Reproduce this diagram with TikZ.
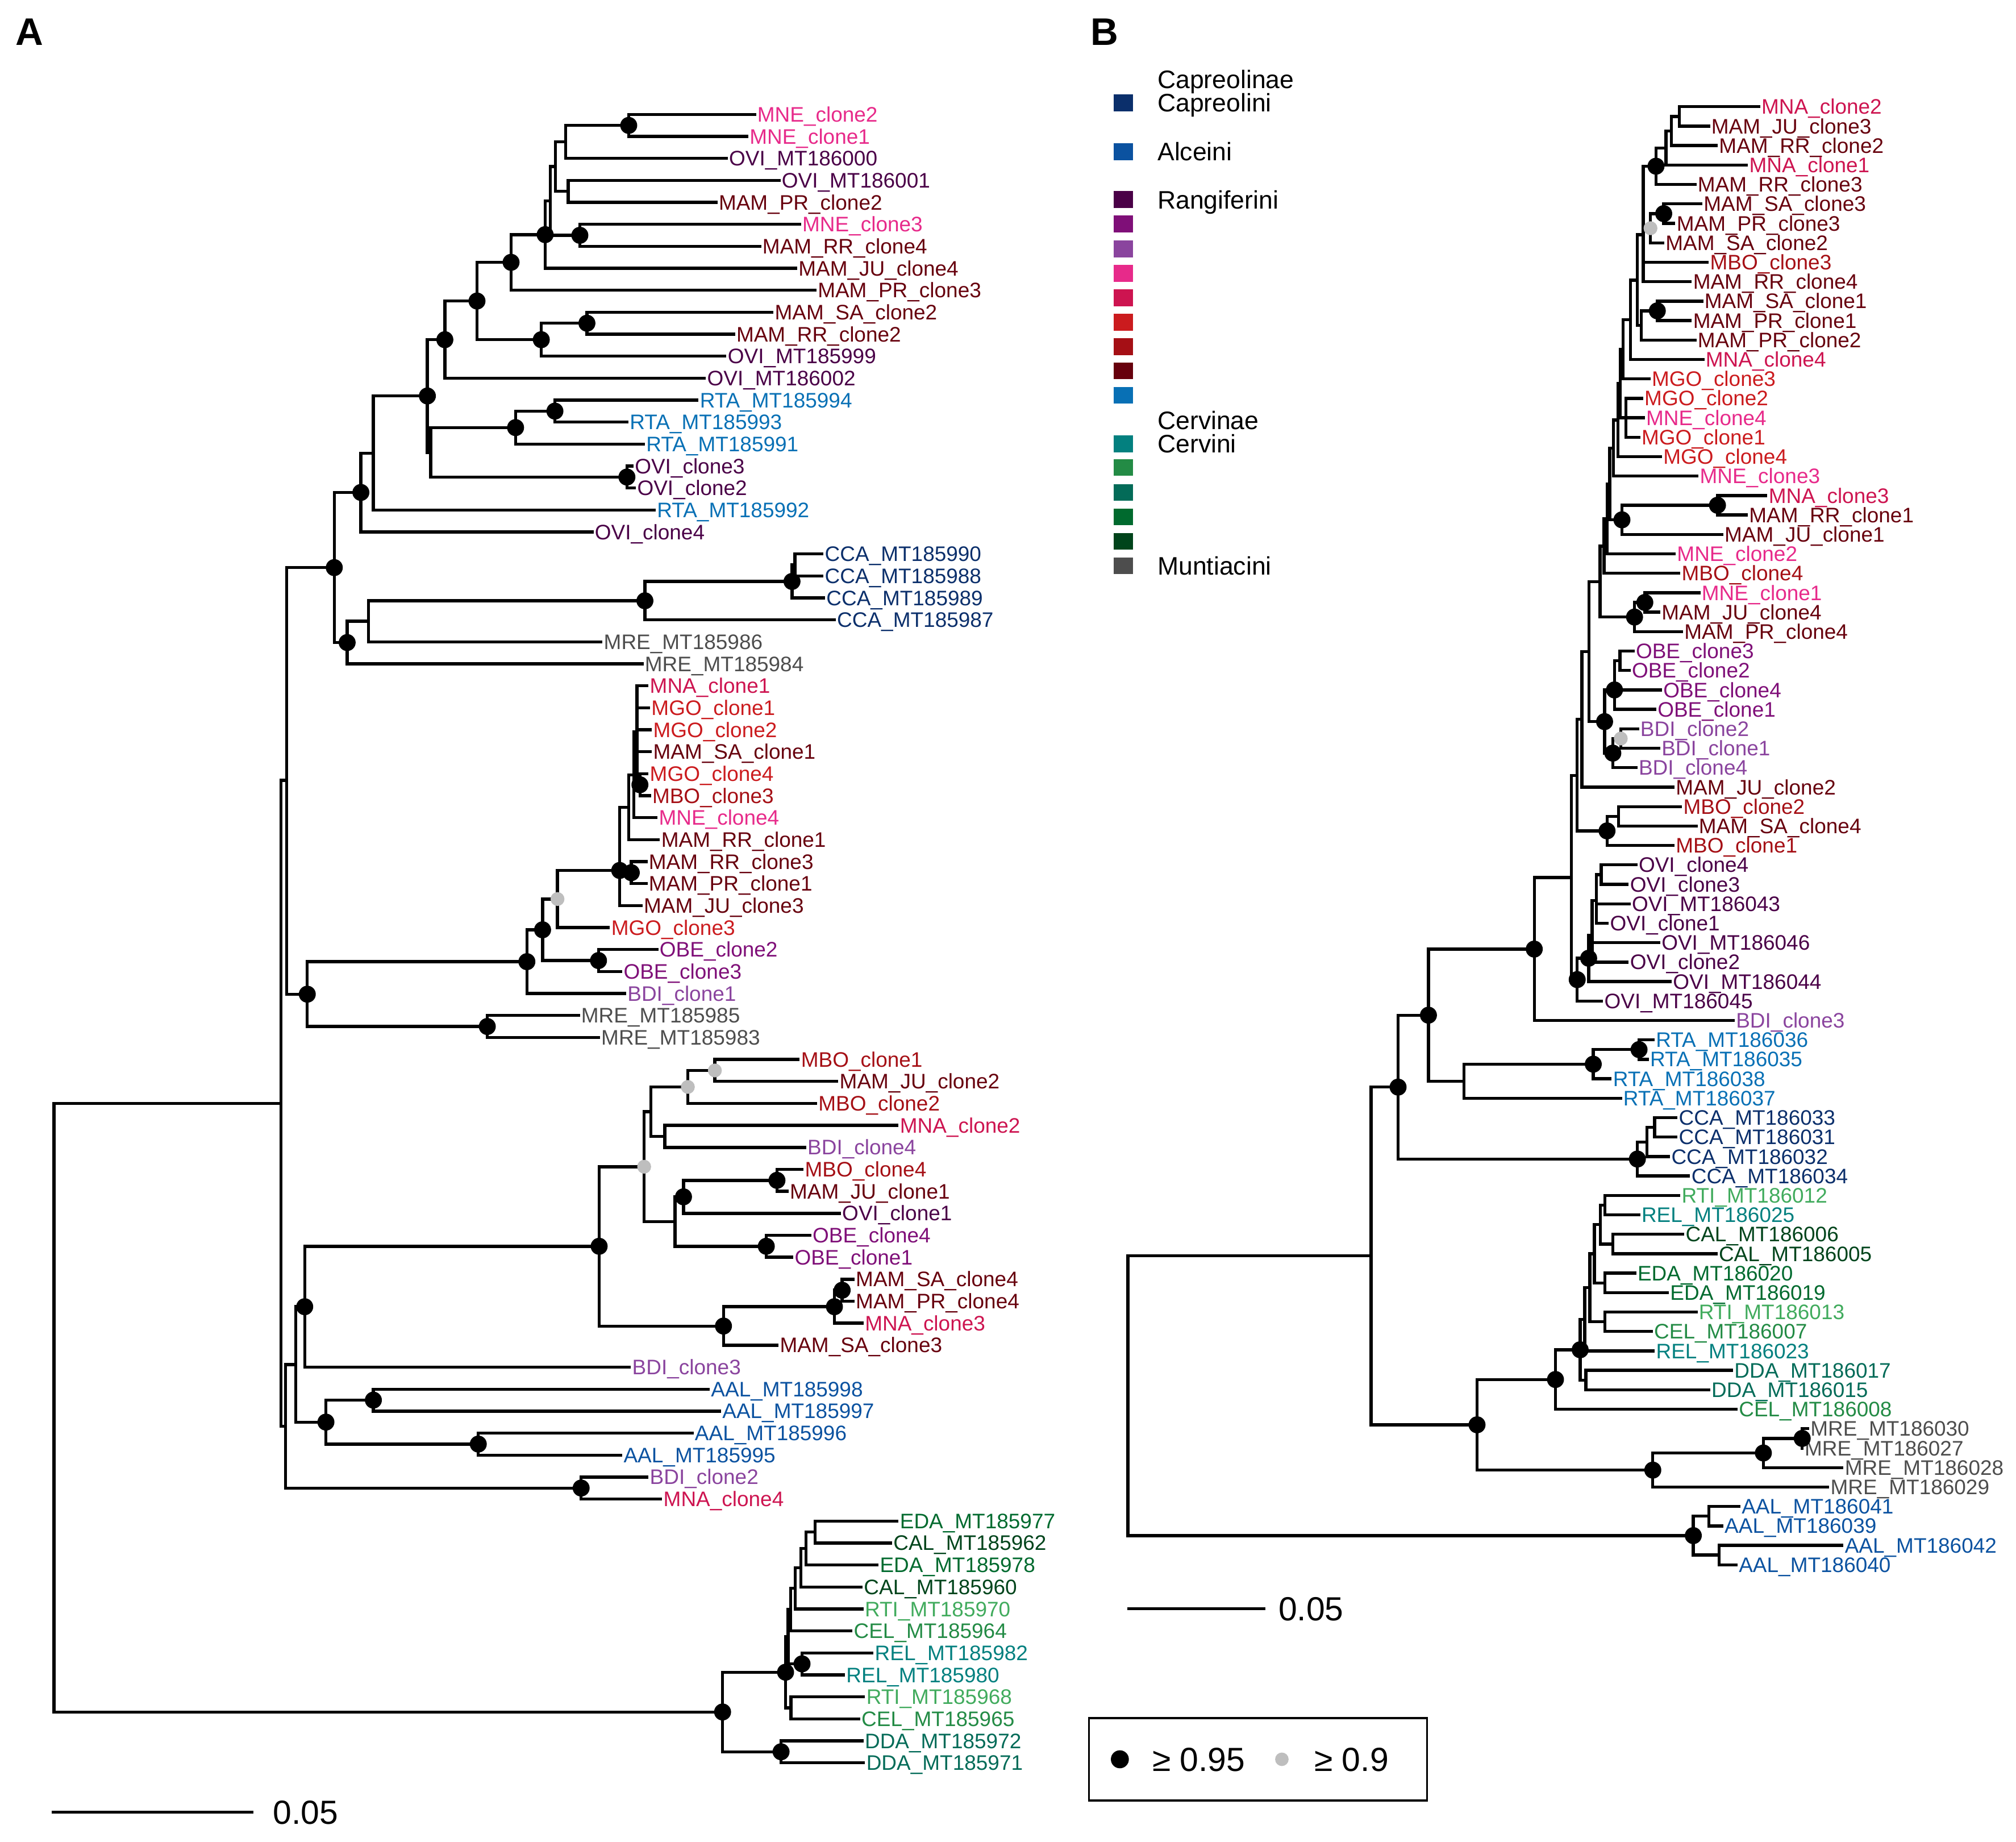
\documentclass[tikz,border=0pt]{standalone}
\usepackage{fontspec}
\setmainfont{Liberation Sans}
\usetikzlibrary{positioning}
\definecolor{colCCA}{HTML}{0B2F6B}
\definecolor{colAAL}{HTML}{0B52A0}
\definecolor{colOVI}{HTML}{4A0047}
\definecolor{colOBE}{HTML}{7F0F78}
\definecolor{colBDI}{HTML}{8A449E}
\definecolor{colMNE}{HTML}{E72A8A}
\definecolor{colMNA}{HTML}{CD1450}
\definecolor{colMGO}{HTML}{CB1B1E}
\definecolor{colMBO}{HTML}{A50F15}
\definecolor{colMAM}{HTML}{67000D}
\definecolor{colRTA}{HTML}{0870B5}
\definecolor{colREL}{HTML}{03807F}
\definecolor{colCEL}{HTML}{238B45}
\definecolor{colDDA}{HTML}{036B58}
\definecolor{colEDA}{HTML}{006A2E}
\definecolor{colCAL}{HTML}{00441B}
\definecolor{colRTI}{HTML}{41AB5D}
\definecolor{colMRE}{HTML}{4D4D4D}
\definecolor{supgray}{HTML}{BEBEBE}

\begin{document}
\begin{tikzpicture}[x=0.02cm, y=-0.02cm,
    branch/.style={line width=1.35pt},
    leaf/.style={anchor=west, inner sep=0.4pt, font=\fontsize{9.3}{9.3}\selectfont, text height=6.6pt, text depth=0pt},
    legtext/.style={anchor=west, inner sep=0pt, font=\fontsize{11.2}{11.2}\selectfont, text height=8pt, text depth=0pt},
    scaletxt/.style={anchor=west, inner sep=0pt, font=\fontsize{14.8}{14.8}\selectfont, text height=10.6pt, text depth=0pt},
    panel/.style={font=\fontsize{17}{17}\selectfont\bfseries}
]
\useasboundingbox (0,0) rectangle (1568,1432);

% Panel letters
\node[panel] (pA) at (23,25) {A};
\node[panel] (pB) at (859,25) {B};

% Tree A: leaves and inner nodes (y = leaf index)
\begin{scope}[y=-0.34186cm, yshift=-1.43814cm]
\foreach \i/\tx/\col/\lab in {1/588/MNE/MNE\_clone2, 2/582/MNE/MNE\_clone1, 3/566/OVI/OVI\_MT186000, 4/607/OVI/OVI\_MT186001,
  5/558/MAM/MAM\_PR\_clone2, 6/623/MNE/MNE\_clone3, 7/592/MAM/MAM\_RR\_clone4, 8/620/MAM/MAM\_JU\_clone4,
  9/635/MAM/MAM\_PR\_clone3, 10/601.6/MAM/MAM\_SA\_clone2, 11/571.7/MAM/MAM\_RR\_clone2, 12/565/OVI/OVI\_MT185999,
  13/549/OVI/OVI\_MT186002, 14/543.3/RTA/RTA\_MT185994, 15/488.8/RTA/RTA\_MT185993, 16/501.6/RTA/RTA\_MT185991,
  17/492.7/OVI/OVI\_clone3, 18/494.6/OVI/OVI\_clone2, 19/510/RTA/RTA\_MT185992, 20/461.6/OVI/OVI\_clone4,
  21/640.5/CCA/CCA\_MT185990, 22/640.5/CCA/CCA\_MT185988, 23/641.7/CCA/CCA\_MT185989, 24/650/CCA/CCA\_MT185987,
  25/468.6/MRE/MRE\_MT185986, 26/500.5/MRE/MRE\_MT185984, 27/504.4/MNA/MNA\_clone1, 28/505.6/MGO/MGO\_clone1,
  29/507/MGO/MGO\_clone2, 30/507/MAM/MAM\_SA\_clone1, 31/504.4/MGO/MGO\_clone4, 32/506.3/MBO/MBO\_clone3,
  33/511.4/MNE/MNE\_clone4, 34/513.3/MAM/MAM\_RR\_clone1, 35/503.6/MAM/MAM\_RR\_clone3, 36/503.6/MAM/MAM\_PR\_clone1,
  37/499.7/MAM/MAM\_JU\_clone3, 38/474.4/MGO/MGO\_clone3, 39/512/OBE/OBE\_clone2, 40/484/OBE/OBE\_clone3,
  41/487/BDI/BDI\_clone1, 42/451/MRE/MRE\_MT185985, 43/466.6/MRE/MRE\_MT185983, 44/622/MBO/MBO\_clone1,
  45/652/MAM/MAM\_JU\_clone2, 46/635.5/MBO/MBO\_clone2, 47/698.9/MNA/MNA\_clone2, 48/627/BDI/BDI\_clone4,
  49/625/MBO/MBO\_clone4, 50/613.3/MAM/MAM\_JU\_clone1, 51/654/OVI/OVI\_clone1, 52/631/OBE/OBE\_clone4,
  53/617/OBE/OBE\_clone1, 54/664.6/MAM/MAM\_SA\_clone4, 55/664.6/MAM/MAM\_PR\_clone4, 56/671.7/MNA/MNA\_clone3,
  57/605.5/MAM/MAM\_SA\_clone3, 58/490.7/BDI/BDI\_clone3, 59/552/AAL/AAL\_MT185998, 60/560.8/AAL/AAL\_MT185997,
  61/539.4/AAL/AAL\_MT185996, 62/484/AAL/AAL\_MT185995, 63/504.4/BDI/BDI\_clone2, 64/515/MNA/MNA\_clone4,
  65/698.9/EDA/EDA\_MT185977, 66/693.8/CAL/CAL\_MT185962, 67/683.3/EDA/EDA\_MT185978, 68/670.9/CAL/CAL\_MT185960,
  69/671.6/RTI/RTI\_MT185970, 70/663/CEL/CEL\_MT185964, 71/679.4/REL/REL\_MT185982, 72/657.2/REL/REL\_MT185980,
  73/672.8/RTI/RTI\_MT185968, 74/669/CEL/CEL\_MT185965, 75/671.6/DDA/DDA\_MT185972, 76/672.8/DDA/DDA\_MT185971}
  \node[leaf, text=col\col] (A\i) at (\tx,\i) {\lab};
\foreach \n/\xx/\kk in {a1/489/1.5, a2/440/2.25, a3/442/4.5, a4/432/3.375, a5/451/6.5, a6/428/4.94, a7/424/6.47,
  a8/397.5/7.73, a9/456.5/10.5, a10/421/11.25, a11/371/9.49, a12/346/11.25, a13/431.6/14.5, a14/401/15.25,
  a15/487.6/17.5, a16/335/16.38, a17/332.4/13.81, a18/290.4/16.41, a19/280.7/18.2, a20/618.3/21.5, a21/616/22.25,
  a22/501.6/23.13, a23/286.5/24.06, a24/270/25.03, a25/260/21.62, a26/497.7/31.5, a27/495.4/29.1, a28/493/31.05,
  a29/489/32.53, a30/491/35.5, a31/482/35.4, a32/433.6/36.7, a33/465.5/39.5, a34/422/38.1, a35/409.8/39.55,
  a36/379/42.5, a37/239/41.03, a38/223/31.3, a39/556/44.5, a40/535/45.25, a41/517/47.5, a42/506.3/46.38,
  a43/604.3/49.5, a44/531.6/50.25, a45/596/52.5, a46/525/51.38, a47/501/48.88, a48/655/54.5, a49/649/55.25,
  a50/562.7/56.13, a51/466/52.5, a52/237/55.25, a53/290.4/59.5, a54/372/61.5, a55/253.5/60.5, a56/230/57.88,
  a57/452/63.5, a58/222/60.69, a59/218.5/46, a60/634/65.5, a61/627/66.25, a62/623/67.13, a63/618.5/68.06,
  a64/615/69.03, a65/623.8/71.5, a66/613/70.27, a67/615.2/73.5, a68/611/71.88, a69/607.5/75.5, a70/562/73.69,
  a71/42/59.85}
  \coordinate (\n) at (\xx,\kk);
\end{scope}

% Tree B: leaves and inner nodes
\begin{scope}[y=-0.3024cm, yshift=-1.3576cm]
\foreach \i/\tx/\col/\lab in {1/1369/MNA/MNA\_clone2, 2/1330/MAM/MAM\_JU\_clone3, 3/1336/MAM/MAM\_RR\_clone2, 4/1359.5/MNA/MNA\_clone1,
  5/1319.4/MAM/MAM\_RR\_clone3, 6/1324/MAM/MAM\_SA\_clone3, 7/1303/MAM/MAM\_PR\_clone3, 8/1294.4/MAM/MAM\_SA\_clone2,
  9/1329/MBO/MBO\_clone3, 10/1315.8/MAM/MAM\_RR\_clone4, 11/1324.7/MAM/MAM\_SA\_clone1, 12/1315.8/MAM/MAM\_PR\_clone1,
  13/1319.4/MAM/MAM\_PR\_clone2, 14/1325.6/MNA/MNA\_clone4, 15/1283.7/MGO/MGO\_clone3, 16/1278/MGO/MGO\_clone2,
  17/1279.3/MNE/MNE\_clone4, 18/1275.7/MGO/MGO\_clone1, 19/1292.6/MGO/MGO\_clone4, 20/1321/MNE/MNE\_clone3,
  21/1374.6/MNA/MNA\_clone3, 22/1359.4/MAM/MAM\_RR\_clone1, 23/1340.3/MAM/MAM\_JU\_clone1, 24/1303.3/MNE/MNE\_clone2,
  25/1306.9/MBO/MBO\_clone4, 26/1322.5/MNE/MNE\_clone1, 27/1291.3/MAM/MAM\_JU\_clone4, 28/1309/MAM/MAM\_PR\_clone4,
  29/1271.3/OBE/OBE\_clone3, 30/1268.2/OBE/OBE\_clone2, 31/1292.6/OBE/OBE\_clone4, 32/1288.2/OBE/OBE\_clone1,
  33/1274.8/BDI/BDI\_clone2, 34/1291.3/BDI/BDI\_clone1, 35/1273.5/BDI/BDI\_clone4, 36/1302.4/MAM/MAM\_JU\_clone2,
  37/1308.2/MBO/MBO\_clone2, 38/1320.3/MAM/MAM\_SA\_clone4, 39/1302.4/MBO/MBO\_clone1, 40/1273.5/OVI/OVI\_clone4,
  41/1266.8/OVI/OVI\_clone3, 42/1268.2/OVI/OVI\_MT186043, 43/1251.2/OVI/OVI\_clone1, 44/1291.3/OVI/OVI\_MT186046,
  45/1266.8/OVI/OVI\_clone2, 46/1300.2/OVI/OVI\_MT186044, 47/1246.8/OVI/OVI\_MT186045, 48/1349.2/BDI/BDI\_clone3,
  49/1286.9/RTA/RTA\_MT186036, 50/1282.4/RTA/RTA\_MT186035, 51/1253.5/RTA/RTA\_MT186038, 52/1261.5/RTA/RTA\_MT186037,
  53/1304.7/CCA/CCA\_MT186033, 54/1304.7/CCA/CCA\_MT186031, 55/1298.9/CCA/CCA\_MT186032, 56/1314.5/CCA/CCA\_MT186034,
  57/1306.9/RTI/RTI\_MT186012, 58/1275.7/REL/REL\_MT186025, 59/1310/CAL/CAL\_MT186006, 60/1335.8/CAL/CAL\_MT186005,
  61/1272.6/EDA/EDA\_MT186020, 62/1298/EDA/EDA\_MT186019, 63/1320.3/RTI/RTI\_MT186013, 64/1285.5/CEL/CEL\_MT186007,
  65/1287/REL/REL\_MT186023, 66/1347.9/DDA/DDA\_MT186017, 67/1330.1/DDA/DDA\_MT186015, 68/1351.4/CEL/CEL\_MT186008,
  69/1407.1/MRE/MRE\_MT186030, 70/1402.6/MRE/MRE\_MT186027, 71/1433.8/MRE/MRE\_MT186028, 72/1422.7/MRE/MRE\_MT186029,
  73/1353.6/AAL/AAL\_MT186041, 74/1340.3/AAL/AAL\_MT186039, 75/1433.8/AAL/AAL\_MT186042, 76/1351.4/AAL/AAL\_MT186040}
  \node[leaf, text=col\col] (B\i) at (\tx,\i) {\lab};
\foreach \n/\xx/\kk in {b1/1306/1.5, b2/1300/2.25, b3/1295.8/3.13, b4/1288/4.06, b5/1294/6.5, b6/1283.7/7.25,
  b7/1278/7.58, b8/1289/11.5, b9/1276.6/12.25, b10/1273.5/9.92, b11/1268/11.96, b12/1262.4/13.48,
  c1/1264.6/17, c2/1260.1/15.24, c3/1258.5/17.12, c4/1255/18.56, c5a/1335.8/21.5, c5/1261.5/22.25,
  c6/1252/20.4, c7/1250/22.2, c8/1247.5/23.6, c9a/1279.3/26.5, c9/1271.3/27.25, c10/1244.5/25.43,
  d1/1260/29.5, d2/1255.7/31, d3/1260.6/33.5, d4/1254.4/34.25, d5/1248/32.63, d6/1236/29.03,
  d7/1230.3/32.5, d10/1258.8/37.5, d9/1249.9/38.25, d8/1226.7/35.4, e1/1245.4/40.5, e2/1241.5/41.83,
  e5/1238.3/43.61, e3/1235.6/44.8, e4/1226.7/45.9, d11/1222.3/40.65, d12/1193.3/44.33,
  f4/1274.8/49.5, f3/1239.2/50.25, f2/1138.6/51.13, f1/1111/47.73, g1/1286.9/53.5, g2/1281/54.25,
  f6/1273.5/55.13, f5/1087.4/51.43, j1/1248.1/57.5, j2/1254.4/59.5, j3/1244.6/58.5, j4/1248.1/61.5,
  j5/1240/60, j6/1248.1/63.5, j7/1236.5/61.75, j9/1232.5/63.38, j8/1233.4/66.5, h6/1229/64.94,
  h2/1209.8/66.47, h5/1401.7/69.5, h4/1371.5/70.25, h3/1285.5/71.13, h1/1148.8/68.8, f7/1066.4/60.11,
  i2/1329.2/73.5, i3/1337.2/75.5, i1/1317/74.5, rb/877.2/67.3}
  \coordinate (\n) at (\xx,\kk);
\end{scope}

% Branches of tree A
\foreach \p/\q in {a1/A1, a1/A2, a2/a1, a2/A3, a3/A4, a3/A5, a4/a2, a4/a3, a5/A6, a5/A7, a6/a4, a6/a5,
  a7/a6, a7/A8, a8/a7, a8/A9, a9/A10, a9/A11, a10/a9, a10/A12, a11/a8, a11/a10, a12/a11, a12/A13,
  a13/A14, a13/A15, a14/a13, a14/A16, a15/A17, a15/A18, a16/a14, a16/a15, a17/a12, a17/a16,
  a18/a17, a18/A19, a19/a18, a19/A20, a20/A21, a20/A22, a21/a20, a21/A23, a22/a21, a22/A24,
  a23/a22, a23/A25, a24/a23, a24/A26, a25/a19, a25/a24, a26/A31, a26/A32,
  a27/A27, a27/A28, a27/A29, a27/A30, a27/a26, a28/a27, a28/A33, a29/a28, a29/A34, a30/A35, a30/A36,
  a31/a29, a31/a30, a31/A37, a32/a31, a32/A38, a33/A39, a33/A40, a34/a32, a34/a33, a35/a34, a35/A41,
  a36/A42, a36/A43, a37/a35, a37/a36, a38/a25, a38/a37, a39/A44, a39/A45, a40/a39, a40/A46,
  a41/A47, a41/A48, a42/a40, a42/a41, a43/A49, a43/A50, a44/a43, a44/A51, a45/A52, a45/A53,
  a46/a44, a46/a45, a47/a42, a47/a46, a48/A54, a48/A55, a49/a48, a49/A56, a50/a49, a50/A57,
  a51/a47, a51/a50, a52/a51, a52/A58, a53/A59, a53/A60, a54/A61, a54/A62, a55/a53, a55/a54,
  a56/a52, a56/a55, a57/A63, a57/A64, a58/a56, a58/a57, a59/a38, a59/a58, a60/A65, a60/A66,
  a61/a60, a61/A67, a62/a61, a62/A68, a63/a62, a63/A69, a64/a63, a64/A70, a65/A71, a65/A72,
  a66/a64, a66/a65, a67/A73, a67/A74, a68/a66, a68/a67, a69/A75, a69/A76, a70/a68, a70/a69,
  a71/a59, a71/a70}
  \draw[branch] (\p) |- (\q);

% Branches of tree B
\foreach \p/\q in {b1/B1, b1/B2, b2/b1, b2/B3, b3/b2, b3/B4, b4/b3, b4/B5, b5/B6, b5/B7, b6/b5, b6/B8,
  b7/b4, b7/b6, b7/B9, b7/B10, b8/B11, b8/B12, b9/b8, b9/B13, b10/b7, b10/b9, b11/b10, b11/B14,
  b12/b11, b12/B15, c1/B16, c1/B17, c1/B18, c2/b12, c2/c1, c3/c2, c3/B19, c4/c3, c4/B20,
  c5a/B21, c5a/B22, c5/c5a, c5/B23, c6/c4, c6/c5, c7/c6, c7/B24, c8/c7, c8/B25,
  c9a/B26, c9a/B27, c9/c9a, c9/B28, c10/c8, c10/c9, d1/B29, d1/B30, d2/d1, d2/B31, d2/B32,
  d3/B33, d3/B34, d4/d3, d4/B35, d5/d2, d5/d4, d6/c10, d6/d5, d7/d6, d7/B36,
  d10/B37, d10/B38, d9/d10, d9/B39, d8/d7, d8/d9, e1/B40, e1/B41, e2/e1, e2/B42, e2/B43,
  e5/e2, e5/B44, e5/B45, e3/e5, e3/B46, e4/e3, e4/B47, d11/d8, d11/e4, d12/d11, d12/B48,
  f4/B49, f4/B50, f3/f4, f3/B51, f2/f3, f2/B52, f1/d12, f1/f2, g1/B53, g1/B54, g2/g1, g2/B55,
  f6/g2, f6/B56, f5/f1, f5/f6, j1/B57, j1/B58, j2/B59, j2/B60, j3/j1, j3/j2, j4/B61, j4/B62,
  j5/j3, j5/j4, j6/B63, j6/B64, j7/j5, j7/j6, j9/j7, j9/B65, j8/B66, j8/B67, h6/j9, h6/j8,
  h2/h6, h2/B68, h5/B69, h5/B70, h4/h5, h4/B71, h3/h4, h3/B72, h1/h2, h1/h3, f7/f5, f7/h1,
  i2/B73, i2/B74, i3/B75, i3/B76, i1/i2, i1/i3, rb/f7, rb/i1}
  \draw[branch] (\p) |- (\q);

% Support values
\foreach \n in {a1, a5, a7, a8, a9, a10, a11, a12, a13, a14, a15, a17, a19, a21, a22, a24, a25, a26,
  a30, a31, a33, a34, a35, a36, a37, a43, a44, a45, a48, a49, a50, a51, a52, a53, a54, a55, a57,
  a65, a68, a69, a70,
  b4, b5, b8, c5a, c5, c9a, c9, d2, d4, d5, d9, e3, e4, d12, f1, f3, f4, f5, f6, h1, h2, h6,
  h3, h4, h5, i1}
  \fill (\n) circle[radius=0.132cm];
\foreach \n in {a32, a39, a40, a47, b6, d3}
  \fill[supgray] (\n) circle[radius=0.108cm];

% Scale bars
\coordinate (sa0) at (40,1409);
\coordinate (sa1) at (197,1409);
\draw[branch] (sa0) -- (sa1);
\node[scaletxt] (sla) at (212,1409) {0.05};
\coordinate (sb0) at (877,1251);
\coordinate (sb1) at (984,1251);
\draw[branch] (sb0) -- (sb1);
\node[scaletxt] (slb) at (994,1251) {0.05};

% Colour legend
\foreach \yy/\cc in {80/CCA, 118/AAL, 155.2/OVI, 174.2/OBE, 193.6/BDI, 212.5/MNE, 231.5/MNA, 250.5/MGO,
  269.6/MBO, 288.4/MAM, 307.3/RTA, 345.2/REL, 363.6/CEL, 383/DDA, 402/EDA, 421/CAL, 440/MRE}
  \fill[col\cc] (866,\yy-6.5) rectangle (881,\yy+6.5);
\node[legtext] (lcap) at (900,61.6) {Capreolinae};
\node[legtext] (lcapi) at (900,80) {Capreolini};
\node[legtext] (lalc) at (900,118) {Alceini};
\node[legtext] (lran) at (900,155.5) {Rangiferini};
\node[legtext] (lcer) at (900,327) {Cervinae};
\node[legtext] (lceri) at (900,345) {Cervini};
\node[legtext] (lmun) at (900,440) {Muntiacini};

% Support legend
\draw[line width=0.9pt] (847,1336) rectangle (1110,1400);
\fill (871,1368) circle[radius=0.14cm];
\node[scaletxt] (s95) at (896,1368) {≥ 0.95};
\fill[supgray] (997,1368) circle[radius=0.105cm];
\node[scaletxt] (s90) at (1022,1368) {≥ 0.9};
\end{tikzpicture}
\end{document}
